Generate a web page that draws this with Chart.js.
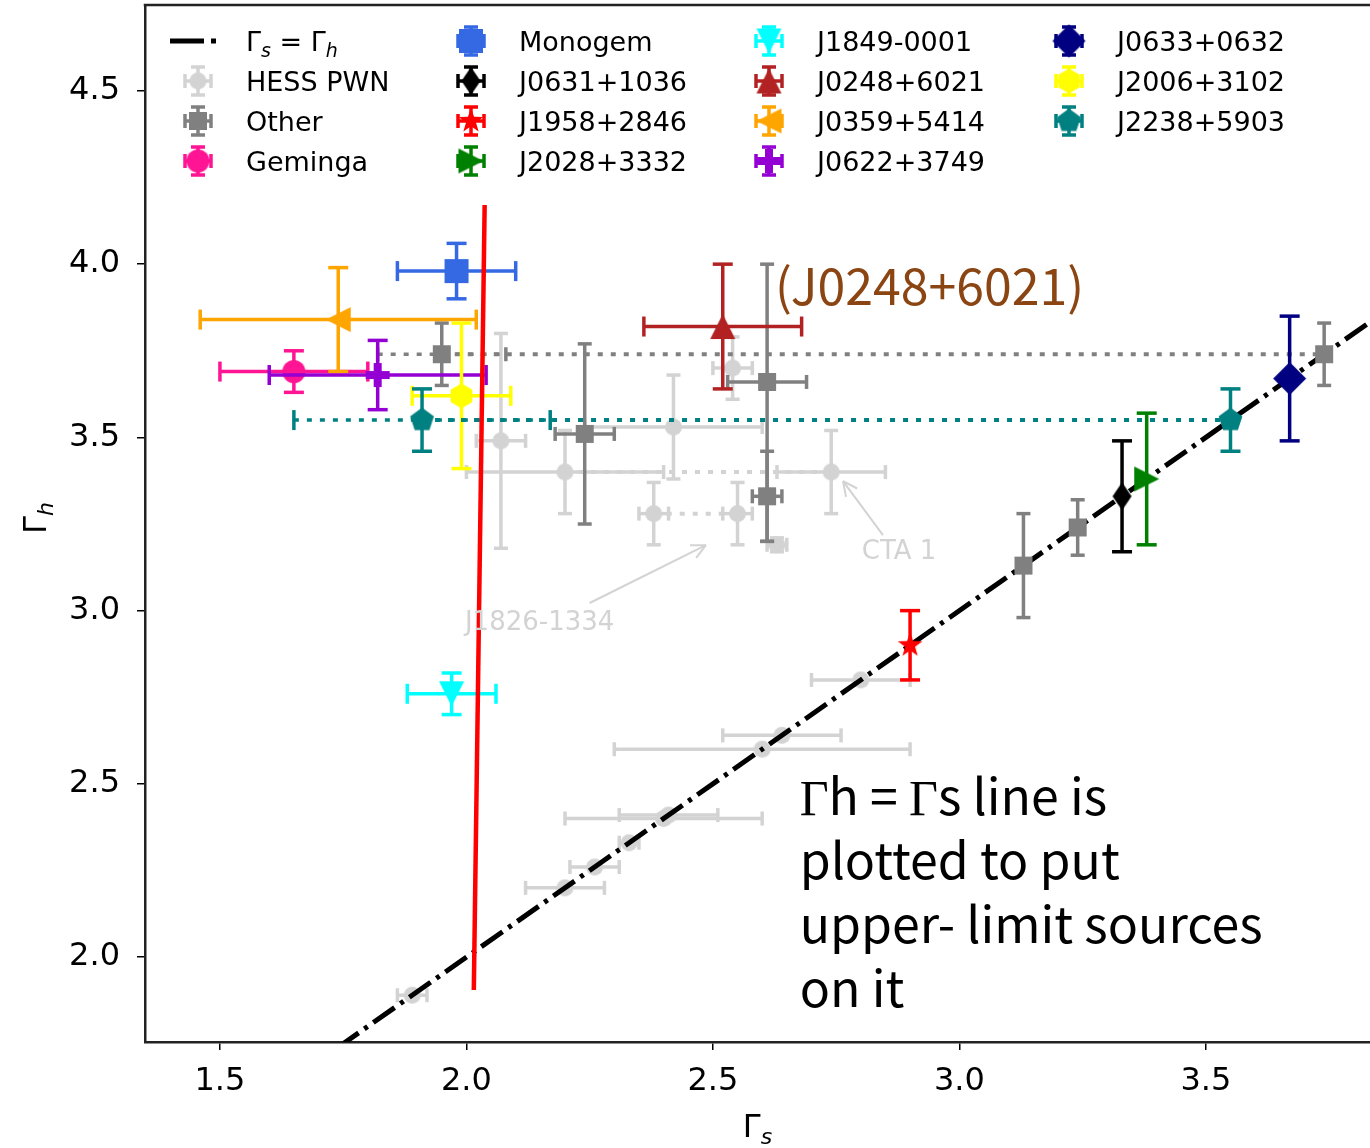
<!DOCTYPE html>
<html>
<head>
<meta charset="utf-8">
<title>Γs vs Γh</title>
<script src="https://cdn.jsdelivr.net/npm/chart.js@4.4.1/dist/chart.umd.min.js"></script>
<style>
  html, body { margin: 0; padding: 0; background: #fff; }
  #grafico { display: block; }
</style>
</head>
<body>
<canvas id="grafico" width="1370" height="1148"></canvas>
<script>
// axis ticks
const sTicks = [1.5, 2.0, 2.5, 3.0, 3.5];
const hTicks = [2.0, 2.5, 3.0, 3.5, 4.0, 4.5];

// HESS PWN (light grey)
const hessGs   = [1.89, 2.20, 2.26, 2.33, 2.40, 2.41, 2.60, 2.64, 2.80, 2.07, 2.20, 2.42, 2.54, 2.74, 2.38, 2.55, 2.63];
const hessGh   = [1.89, 2.20, 2.26, 2.33, 2.40, 2.41, 2.60, 2.64, 2.80, 3.49, 3.40, 3.53, 3.70, 3.40, 3.28, 3.28, 3.19];
const hessErrS = [0.03, 0.08, 0.05, 0.02, 0.20, 0.10, 0.30, 0.12, 0.10, 0.05, 0.20, 0.18, 0.04, 0.11, 0.03, 0.03, 0.02];
const hessErrH = [0, 0, 0, 0, 0, 0, 0, 0, 0, 0.31, 0.12, 0.15, 0.09, 0.12, 0.09, 0.09, 0.02];
const hessLinks = [[10, 13], [14, 15]];

// Other (grey)
const otherGs   = [1.95, 3.74, 2.24, 2.61, 2.61, 3.13, 3.24];
const otherGh   = [3.74, 3.74, 3.51, 3.66, 3.33, 3.13, 3.24];
const otherErrS = [0.13, 0, 0.06, 0.08, 0.03, 0, 0];
const otherErrH = [0.09, 0.09, 0.26, [0.46, 0.34], 0.13, 0.15, 0.08];
const otherDotted = [true, false, false, false, false, false, false];
const otherLinks = [[0, 1]];

// pulsars
const psrNames = ['Geminga', 'Monogem', 'J0631+1036', 'J1958+2846', 'J2028+3332', 'J1849-0001',
                  'J0248+6021', 'J0359+5414', 'J0622+3749', 'J0633+0632', 'J2006+3102', 'J2238+5903'];
const psrGs   = [[1.65], [1.98], [3.33], [2.90], [3.38], [1.97], [2.52], [1.74], [1.82], [3.67], [1.99], [1.91, 3.55]];
const psrGh   = [[3.69], [3.98], [3.33], [2.90], [3.38], [2.76], [3.82], [3.84], [3.68], [3.67], [3.62], [3.55, 3.55]];
const psrErrS = [[0.15], [0.12], [0], [0], [0], [0.09], [0.16], [0.28], [0.22], [0], [0.10], [0.26, 0]];
const psrErrH = [[0.06], [0.08], [0.16], [0.10], [0.19], [0.06], [0.18], [0.15], [0.10], [0.18], [0.21], [0.09, 0.09]];
const psrDotted = [[], [], [], [], [], [], [], [], [], [], [], [true, false]];

// Γs = Γh reference line and hand-drawn red mark
const unityGs = [1.3, 4.0];
const redMarkGs = [2.037, 2.015];
const redMarkGh = [4.171, 1.905];

const psrStyle = {
  'Geminga':    ['#ff1493', 'circle', 23],
  'Monogem':    ['#3469e3', 'square', 24],
  'J0631+1036': ['#000000', 'thin', 19, 28],
  'J1958+2846': ['#ff0000', 'star', 26],
  'J2028+3332': ['#008000', 'triRight', 25],
  'J1849-0001': ['#00ffff', 'triDown', 25],
  'J0248+6021': ['#b22222', 'triUp', 25],
  'J0359+5414': ['#ffa500', 'triLeft', 25],
  'J0622+3749': ['#9400d3', 'plus', 24],
  'J0633+0632': ['#000080', 'diamond', 33],
  'J2006+3102': ['#ffff00', 'hexagon', 25],
  'J2238+5903': ['#008080', 'pentagon', 25]
};

const pair = e => Array.isArray(e) ? e : [e, e];
const pts = (xs, ys) => xs.map((v, i) => ({ x: v, y: ys[i] }));

function markerCanvas(shape, color, w, h) {
  h = h || w;
  const c = document.createElement('canvas');
  c.width = Math.ceil(w) + 2;
  c.height = Math.ceil(h) + 2;
  const g = c.getContext('2d');
  const cx = c.width / 2, cy = c.height / 2, rx = w / 2, ry = h / 2;
  const poly = p => {
    p.forEach(([px, py], i) => i ? g.lineTo(cx + px, cy + py) : g.moveTo(cx + px, cy + py));
    g.closePath();
  };
  const ngon = (n, r, rot) => poly(Array.from({ length: n }, (_, k) => {
    const t = rot + k * 2 * Math.PI / n;
    return [r * Math.cos(t), r * Math.sin(t)];
  }));
  g.fillStyle = color;
  g.beginPath();
  switch (shape) {
    case 'circle': g.arc(cx, cy, rx, 0, 2 * Math.PI); break;
    case 'square': g.rect(cx - rx, cy - ry, w, h); break;
    case 'diamond':
    case 'thin': poly([[0, -ry], [rx, 0], [0, ry], [-rx, 0]]); break;
    case 'triUp': poly([[0, -ry], [rx, ry], [-rx, ry]]); break;
    case 'triDown': poly([[0, ry], [rx, -ry], [-rx, -ry]]); break;
    case 'triLeft': poly([[-rx, 0], [rx, -ry], [rx, ry]]); break;
    case 'triRight': poly([[rx, 0], [-rx, -ry], [-rx, ry]]); break;
    case 'pentagon': ngon(5, rx, -Math.PI / 2); break;
    case 'hexagon': ngon(6, rx, -Math.PI / 2); break;
    case 'plus': {
      const t = rx / 3;
      poly([[-t, -rx], [t, -rx], [t, -t], [rx, -t], [rx, t], [t, t], [t, rx], [-t, rx], [-t, t], [-rx, t], [-rx, -t], [-t, -t]]);
      break;
    }
    case 'star':
      poly(Array.from({ length: 10 }, (_, k) => {
        const r = k % 2 ? rx * 0.4 : rx;
        const t = -Math.PI / 2 + k * Math.PI / 5;
        return [r * Math.cos(t), r * Math.sin(t)];
      }));
      break;
  }
  g.fill();
  return c;
}

const hessMarker = markerCanvas('circle', '#d3d3d3', 17);
const otherMarker = markerCanvas('square', '#808080', 18);

function seriesSet(label, xs, ys, es, eh, color, marker, cap, dotted) {
  return {
    label, data: pts(xs, ys), errS: es, errH: eh, dotted: dotted || [],
    barColor: color, capSize: cap, showLine: false,
    pointStyle: marker, pointRadius: 10, backgroundColor: color, borderColor: color
  };
}
function linkSet(xs, ys, a, b, color) {
  return {
    label: '', data: pts([xs[a], xs[b]], [ys[a], ys[b]]), showLine: true, pointRadius: 0,
    borderColor: color, borderWidth: 4, borderDash: [5, 8], borderCapStyle: 'butt', fill: false
  };
}

// draw sequence: first = bottom
const datasets = [];
datasets.push(seriesSet('HESS PWN', hessGs, hessGh, hessErrS, hessErrH, '#d3d3d3', hessMarker, 7));
hessLinks.forEach(([a, b]) => datasets.push(linkSet(hessGs, hessGh, a, b, '#d3d3d3')));
datasets.push({
  label: 'Γs = Γh', data: pts(unityGs, unityGs), showLine: true, pointRadius: 0,
  borderColor: '#000', borderWidth: 5, borderDash: [26, 7, 4, 7], borderCapStyle: 'butt'
});
otherLinks.forEach(([a, b]) => datasets.push(linkSet(otherGs, otherGh, a, b, '#808080')));
datasets.push(seriesSet('Other', otherGs, otherGh, otherErrS, otherErrH, '#808080', otherMarker, 7, otherDotted));
const psrMarkers = {};
psrNames.forEach((name, k) => {
  const [color, shape, w, h] = psrStyle[name];
  psrMarkers[name] = markerCanvas(shape, color, w, h);
  if (psrGs[k].length > 1) datasets.push(linkSet(psrGs[k], psrGh[k], 0, 1, color));
  datasets.push(seriesSet(name, psrGs[k], psrGh[k], psrErrS[k], psrErrH[k], color, psrMarkers[name], 10, psrDotted[k]));
});
datasets.push({
  label: '', data: pts(redMarkGs, redMarkGh), showLine: true, pointRadius: 0,
  borderColor: '#ff0000', borderWidth: 4.5
});
datasets.forEach((d, i) => { d.order = datasets.length - i; });

function seg(c, x0, y0, x1, y1) {
  c.beginPath(); c.moveTo(x0, y0); c.lineTo(x1, y1); c.stroke();
}

const errorBars = {
  id: 'errorBars',
  beforeDatasetDraw(chart, args) {
    const ds = chart.data.datasets[args.index];
    if (!ds.errS) return;
    const { ctx, chartArea: a, scales: { x, y } } = chart;
    const cap = ds.capSize;
    ctx.save();
    ctx.beginPath();
    ctx.rect(a.left, a.top, a.right - a.left, a.bottom - a.top);
    ctx.clip();
    ctx.strokeStyle = ds.barColor;
    ctx.lineWidth = 3.5;
    ctx.lineCap = 'butt';
    ds.data.forEach((p, i) => {
      const [sm, sp] = pair(ds.errS[i]);
      const [hm, hp] = pair(ds.errH[i]);
      const px = x.getPixelForValue(p.x), py = y.getPixelForValue(p.y);
      if (sm || sp) {
        const x0 = x.getPixelForValue(p.x - sm), x1 = x.getPixelForValue(p.x + sp);
        ctx.setLineDash(ds.dotted[i] ? [5, 8] : []);
        seg(ctx, x0, py, x1, py);
        ctx.setLineDash([]);
        seg(ctx, x0, py - cap, x0, py + cap);
        seg(ctx, x1, py - cap, x1, py + cap);
      }
      if (hm || hp) {
        const y0 = y.getPixelForValue(p.y - hm), y1 = y.getPixelForValue(p.y + hp);
        seg(ctx, px, y0, px, y1);
        seg(ctx, px - cap, y0, px + cap, y0);
        seg(ctx, px - cap, y1, px + cap, y1);
      }
    });
    ctx.restore();
  }
};

function drawRuns(c, runs, x, y, align) {
  let w = 0;
  runs.forEach(r => { c.font = r.font; w += c.measureText(r.t).width; });
  let cx = align === 'center' ? x - w / 2 : x;
  runs.forEach(r => {
    c.font = r.font;
    c.fillText(r.t, cx, y + (r.dy || 0));
    cx += c.measureText(r.t).width;
  });
}

function arrow(c, x0, y0, x1, y1) {
  seg(c, x0, y0, x1, y1);
  const t = Math.atan2(y1 - y0, x1 - x0), L = 16, s = 0.45;
  seg(c, x1, y1, x1 - L * Math.cos(t - s), y1 - L * Math.sin(t - s));
  seg(c, x1, y1, x1 - L * Math.cos(t + s), y1 - L * Math.sin(t + s));
}

function legendHandle(c, cx, cy, color, marker) {
  c.strokeStyle = color;
  c.lineWidth = 3.5;
  seg(c, cx - 13, cy, cx + 13, cy);
  seg(c, cx - 13, cy - 7, cx - 13, cy + 7);
  seg(c, cx + 13, cy - 7, cx + 13, cy + 7);
  seg(c, cx, cy - 14, cx, cy + 14);
  seg(c, cx - 7, cy - 14, cx + 7, cy - 14);
  seg(c, cx - 7, cy + 14, cx + 7, cy + 14);
  c.drawImage(marker, cx - marker.width / 2, cy - marker.height / 2);
}

const extras = {
  id: 'extras',
  afterDraw(chart) {
    const { ctx, chartArea: a, scales: { x, y } } = chart;
    const X = v => x.getPixelForValue(v), Y = v => y.getPixelForValue(v);
    ctx.save();
    ctx.textAlign = 'left';
    ctx.textBaseline = 'alphabetic';

    // top frame
    ctx.strokeStyle = '#222';
    ctx.lineWidth = 2.5;
    seg(ctx, a.left - 1.25, a.top, a.right, a.top);

    // axis titles
    ctx.fillStyle = '#000';
    drawRuns(ctx, [
      { t: 'Γ', font: '32px "DejaVu Sans"' },
      { t: 's', font: 'italic 22px "DejaVu Sans"', dy: 7 }
    ], (a.left + a.right) / 2, 1137, 'center');
    ctx.save();
    ctx.translate(46, 518);
    ctx.rotate(-Math.PI / 2);
    drawRuns(ctx, [
      { t: 'Γ', font: '32px "DejaVu Sans"' },
      { t: 'h', font: 'italic 22px "DejaVu Sans"', dy: 7 }
    ], 0, 0, 'center');
    ctx.restore();

    // legend, four columns
    const colHandle = [198, 471, 769, 1069], colText = [246, 519, 817, 1117];
    const rowY = [41, 81, 121, 161];
    const entries = [{ name: 'Γs = Γh' }, { name: 'HESS PWN', color: '#d3d3d3', marker: hessMarker },
      { name: 'Other', color: '#808080', marker: otherMarker }]
      .concat(psrNames.map(n => ({ name: n, color: psrStyle[n][0], marker: psrMarkers[n] })));
    entries.forEach((e, k) => {
      const col = Math.floor(k / 4), cy = rowY[k % 4];
      ctx.fillStyle = '#000';
      if (k === 0) {
        ctx.strokeStyle = '#000';
        ctx.lineWidth = 5;
        seg(ctx, 170, cy, 204, cy);
        seg(ctx, 211, cy, 216, cy);
        drawRuns(ctx, [
          { t: 'Γ', font: '27px "DejaVu Sans"' },
          { t: 's', font: 'italic 19px "DejaVu Sans"', dy: 6 },
          { t: ' = Γ', font: '27px "DejaVu Sans"' },
          { t: 'h', font: 'italic 19px "DejaVu Sans"', dy: 6 }
        ], colText[col], cy + 10);
      } else {
        legendHandle(ctx, colHandle[col], cy, e.color, e.marker);
        ctx.font = '27px "DejaVu Sans"';
        ctx.fillText(e.name, colText[col], cy + 10);
      }
    });

    // grey labels with arrows
    ctx.fillStyle = '#d3d3d3';
    ctx.strokeStyle = '#d3d3d3';
    ctx.lineWidth = 2;
    ctx.font = '26px "DejaVu Sans"';
    ctx.fillText('CTA 1', X(2.802), Y(3.149));
    arrow(ctx, X(2.845), Y(3.218), X(2.764), Y(3.374));
    ctx.fillText('J1826-1334', X(1.997), Y(2.944));
    arrow(ctx, X(2.250), Y(3.022), X(2.486), Y(3.189));

    // added notes
    ctx.fillStyle = '#8b4513';
    ctx.font = '50px "Noto Sans CJK SC"';
    ctx.fillText('(J0248+6021)', X(2.626), Y(3.882));

    ctx.fillStyle = '#000';
    const sans = '50px "Noto Sans CJK SC"', serif = '50px "Liberation Serif"';
    const nx = X(2.676), ny = Y(2.410);
    drawRuns(ctx, [
      { t: 'Γ', font: serif }, { t: 'h = ', font: sans },
      { t: 'Γ', font: serif }, { t: 's line is', font: sans }
    ], nx, ny);
    ctx.font = sans;
    ['plotted to put', 'upper- limit sources', 'on it'].forEach((t, i) => {
      ctx.fillText(t, nx, ny + 64 * (i + 1));
    });
    ctx.restore();
  }
};

// no label overflow padding: the plot fills the canvas as in the figure
const noPad = s => { s.paddingTop = 0; s.paddingBottom = 0; s.paddingLeft = 0; s.paddingRight = 0; };

const ctx = document.getElementById('grafico').getContext('2d');
new Chart(ctx, {
  type: 'scatter',
  data: { datasets },
  options: {
    responsive: false,
    animation: false,
    events: [],
    layout: { autoPadding: false, padding: { top: 5, right: 0, bottom: 0, left: 0 } },
    plugins: { legend: { display: false }, tooltip: { enabled: false } },
    scales: {
      x: {
        type: 'linear',
        min: 1.348,
        max: 3.833,
        afterBuildTicks: s => { s.ticks = sTicks.map(v => ({ value: v })); },
        afterFit: s => { s.height = 106; noPad(s); },
        ticks: {
          color: '#000', padding: 12, maxRotation: 0, autoSkip: false,
          font: { family: 'DejaVu Sans', size: 32 },
          callback: v => v.toFixed(1)
        },
        grid: { drawOnChartArea: false, drawTicks: true, tickLength: 8, color: '#000', lineWidth: 1.5 },
        border: { display: true, color: '#222', width: 2.5 }
      },
      y: {
        type: 'linear',
        min: 1.755,
        max: 4.748,
        afterBuildTicks: s => { s.ticks = hTicks.map(v => ({ value: v })); },
        afterFit: s => { s.width = 145; noPad(s); },
        ticks: {
          color: '#000', padding: 17, autoSkip: false,
          font: { family: 'DejaVu Sans', size: 32 },
          callback: v => v.toFixed(1)
        },
        grid: { drawOnChartArea: false, drawTicks: true, tickLength: 8, color: '#000', lineWidth: 1.5 },
        border: { display: true, color: '#222', width: 2.5 }
      }
    }
  },
  plugins: [errorBars, extras]
});
</script>
</body>
</html>
